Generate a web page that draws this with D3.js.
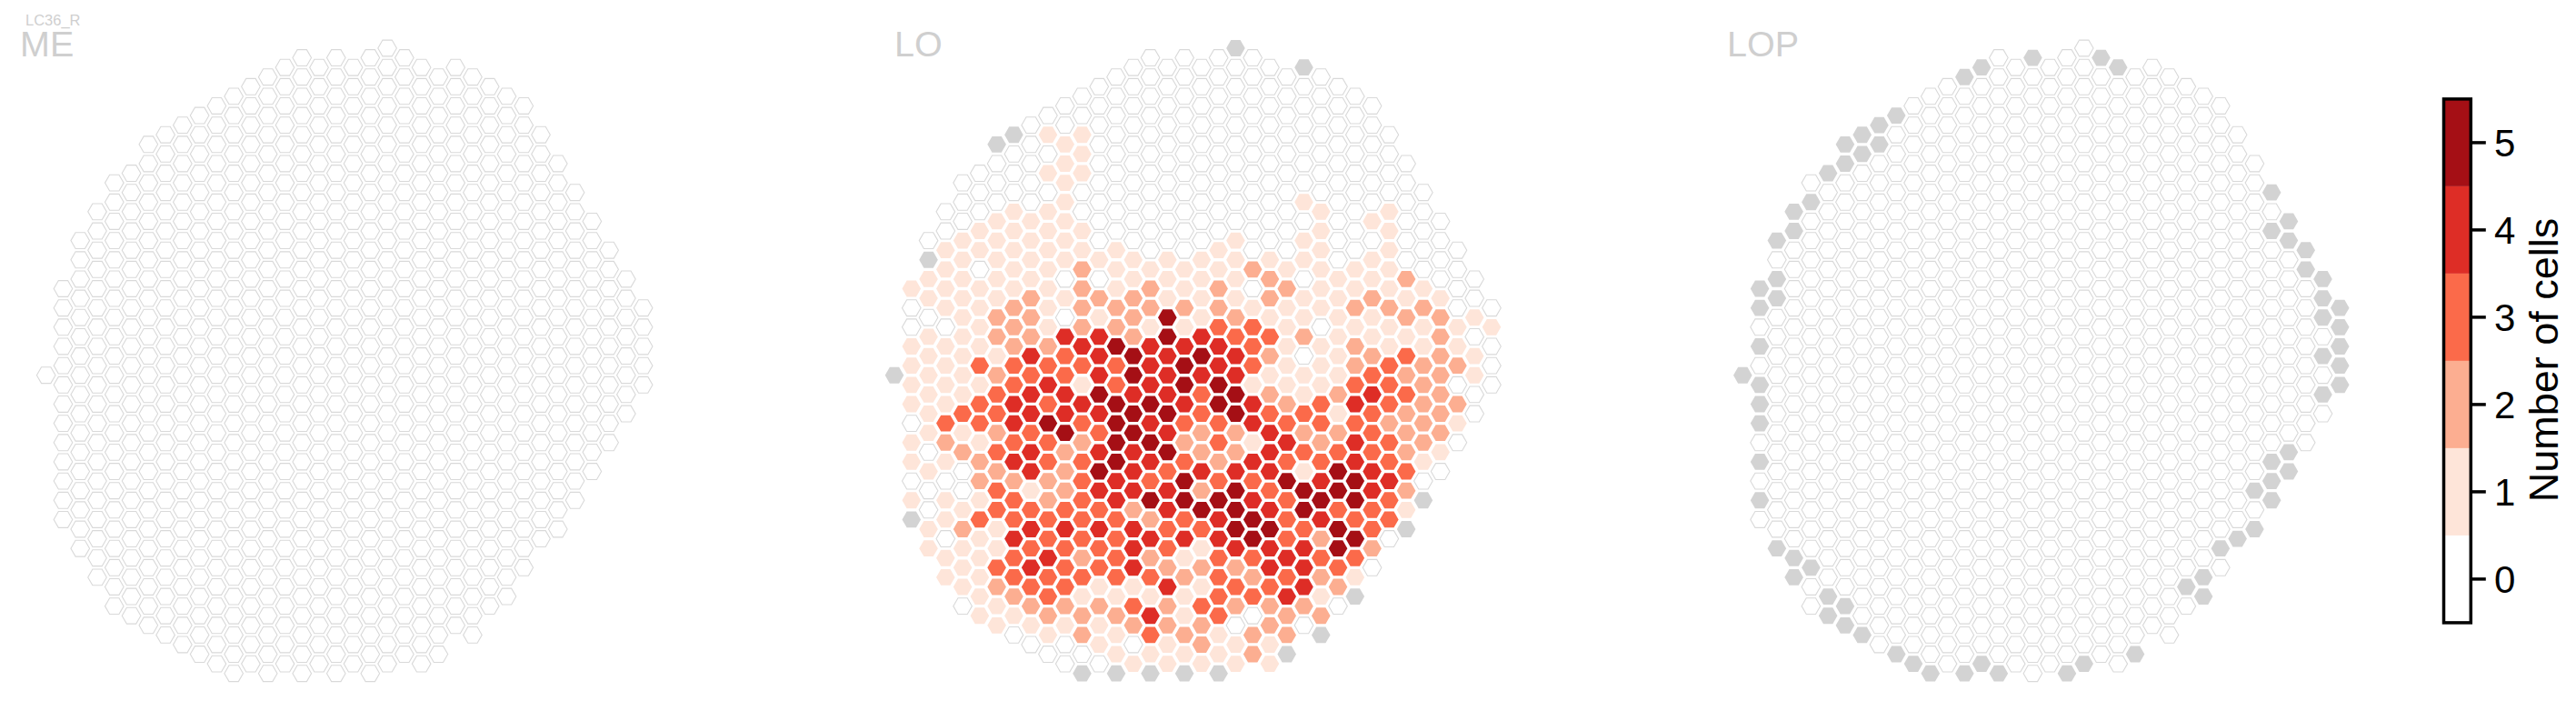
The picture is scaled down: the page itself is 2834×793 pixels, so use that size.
<!DOCTYPE html>
<html><head><meta charset="utf-8">
<script src="https://cdn.jsdelivr.net/npm/d3@7"></script>
<style>body{margin:0;background:#fff}svg{display:block}</style>
</head><body>
<svg id="chart" width="2834" height="793"></svg>
<script>
// ---------------- data ----------------
const cellTypeName = "LC36_R";
const panelNames = ["ME", "LO", "LOP"];
// hex-grid column extents (column index 0..35, row index in half-row units)
const gridTop    = [0,-9,-14,-17,-20,-21,-24,-25,-26,-27,-28,-29,-30,-31,-32,-33,-32,-33,-32,-33,-34,-33,-32,-31,-32,-31,-30,-29,-28,-25,-22,-19,-16,-13,-10,-7];
const gridBottom = [0,15,18,21,24,25,26,27,28,29,30,31,30,31,30,31,30,31,30,31,30,29,30,29,26,27,24,23,20,17,16,13,10,7,4,1];
// ME: no cells counted, no gray columns
const meColumns = [];
// LO: per column, from top cell to bottom cell; digit = number of cells, g = gray column
const loColumns = [
  "g",
  "100111101101g",
  "0g110111111010011",
  "00111101111321011011",
  "00011111111131200121110",
  "000110111131331221311111",
  "g0001111122123323233113211",
  "g00011111222334434233433210",
  "0000011112224344344134343210",
  "01010111111123435332233433210",
  "001111111010433445222343332100",
  "001110011222243143233333231220g",
  "0000000001021444543454343312110",
  "0000000001112253355554433331211g",
  "00000000001122255455444244413201",
  "00000000000122144454543524231431g",
  "00000000001115544454534433242211",
  "00000000000112145543235534121121g",
  "00000000001111454332242531213221",
  "00000000001122344553323544333311g",
  "g00000000011112344552245554232011",
  "00000000000201333144143455323022",
  "00000000001221321234443454432211",
  "000000000012111112343533343422g",
  "g00000010110112011323155344420",
  "00000001111110111332345423212g",
  "0000000000111111212355355320",
  "00000000011212234344553531g",
  "0000001011211234333443320",
  "0000111112113332334330",
  "0000002121323222321g",
  "0000012112222210g",
  "00001222222210",
  "00001120210",
  "00101100",
  "01000"
];
// LOP: gray columns [column, [rows]]; all other cells 0
const lopGray = [
  [0,[0]],[1,[-9,-7,-3,1,3,5,9,13]],[2,[-14,-10,-8,18]],[3,[-17,-15,19,21]],[4,[-18,20]],
  [5,[-21,23,25]],[6,[-24,-22,24,26]],[7,[-25,-23,27]],[8,[-26,-24]],[9,[-27,29]],
  [10,[30]],[11,[31]],[13,[-31,31]],[14,[-32,30]],[15,[31]],[17,[-33]],[19,[31]],
  [20,[30]],[21,[-33]],[22,[-32]],[23,[29]],[26,[22]],[27,[21,23]],[28,[18]],[29,[17]],
  [30,[12,16]],[31,[-19,-15,9,11,13]],[32,[-16,-14,8,10]],[33,[-13,-11]],
  [34,[-10,-8,-6,-2,2]],[35,[-7,-5,-3,-1,1]]
];
const countLevels = [0, 1, 2, 3, 4, 5];
const countColors = ["#ffffff", "#fee5d9", "#fcae91", "#fb6a4a", "#de2d26", "#a50f15"];
const colorbarTicks = [0, 1, 2, 3, 4, 5];
const colorbarLabel = "Number of cells";

// ---------------- layout ----------------
const W = 2834, H = 793;
const panelX0 = [50.7, 984, 1917.3];
const colStep = 18.77;
const yTop = 53.0, yBottom = 740.7;
const hexR = 10.3;
const grayFill = "#d3d3d3";
const FONT = "Liberation Sans, Arial, sans-serif";

const svg = d3.select("#chart");
svg.append("rect").attr("width", W).attr("height", H).attr("fill", "#fff");

const color = d3.scaleOrdinal().domain(countLevels).range(countColors);
const yScale = d3.scaleLinear().domain([-34, 31]).range([yTop, yBottom]);

function buildCells(p) {
  const cells = [];
  const grayMap = new Map();
  if (p === 2) lopGray.forEach(([c, ks]) => ks.forEach(k => grayMap.set(c + ":" + k, true)));
  for (let c = 0; c < gridTop.length; c++) {
    const s = p === 1 ? (loColumns[c] || "") : "";
    let i = 0;
    for (let k = gridTop[c]; k <= gridBottom[c]; k += 2, i++) {
      let v = 0, gray = false;
      if (p === 1) {
        const ch = s[i] || "0";
        if (ch === "g") gray = true; else v = +ch;
      } else if (p === 2) {
        gray = grayMap.has(c + ":" + k);
      }
      cells.push({ c, k, v, gray });
    }
  }
  return cells;
}

const hexPts = d3.range(6).map(i => {
  const a = Math.PI / 3 * i;
  return [hexR * Math.cos(a), hexR * Math.sin(a)];
});
const hexPath = "M" + hexPts.map(p => p[0].toFixed(3) + "," + p[1].toFixed(3)).join("L") + "Z";

panelNames.forEach((name, p) => {
  const x = d3.scaleLinear().domain([0, 35]).range([panelX0[p], panelX0[p] + 35 * colStep]);
  const g = svg.append("g");
  const cells = buildCells(p);
  g.selectAll("path.hex").data(cells).join("path")
    .attr("class", "hex")
    .attr("d", hexPath)
    .attr("transform", d => `translate(${x(d.c)},${yScale(d.k)})`)
    .attr("fill", d => d.gray ? grayFill : color(d.v))
    .attr("stroke", d => (d.gray || d.v > 0) ? "none" : "#d9d9d9")
    .attr("stroke-width", 1.1);
});

// titles
const titleX = [22, 984, 1900];
panelNames.forEach((name, p) => {
  svg.append("text").attr("x", titleX[p]).attr("y", 62)
    .attr("font-family", FONT)
    .attr("font-size", 39.5).attr("fill", "#cfcfcf").text(name);
});
svg.append("text").attr("x", 28).attr("y", 27.5)
  .attr("font-family", FONT)
  .attr("font-size", 16.5).attr("fill", "#cfcfcf").text(cellTypeName);

// colorbar
const cb = svg.append("g");
const cbX = 2688.5, cbW = 29.8;
const cbY = d3.scaleLinear().domain([-0.5, 5.5]).range([684.9, 108.9]);
countLevels.forEach(lv => {
  cb.append("rect").attr("x", cbX).attr("y", cbY(lv + 0.5)).attr("width", cbW)
    .attr("height", cbY(lv - 0.5) - cbY(lv + 0.5)).attr("fill", color(lv));
});
cb.append("rect").attr("x", cbX).attr("y", cbY(5.5)).attr("width", cbW)
  .attr("height", cbY(-0.5) - cbY(5.5)).attr("fill", "none")
  .attr("stroke", "#000").attr("stroke-width", 3.5);
colorbarTicks.forEach(t => {
  cb.append("line").attr("x1", cbX + cbW).attr("x2", cbX + cbW + 16.5)
    .attr("y1", cbY(t)).attr("y2", cbY(t)).attr("stroke", "#000").attr("stroke-width", 3.5);
  cb.append("text").attr("x", 2744).attr("y", cbY(t) + 15)
    .attr("font-family", FONT)
    .attr("font-size", 42).attr("fill", "#000").text(t);
});
cb.append("text").attr("transform", "translate(2814,396) rotate(-90)")
  .attr("text-anchor", "middle")
  .attr("font-family", FONT)
  .attr("font-size", 45).attr("fill", "#000").text(colorbarLabel);
</script>
</body></html>
